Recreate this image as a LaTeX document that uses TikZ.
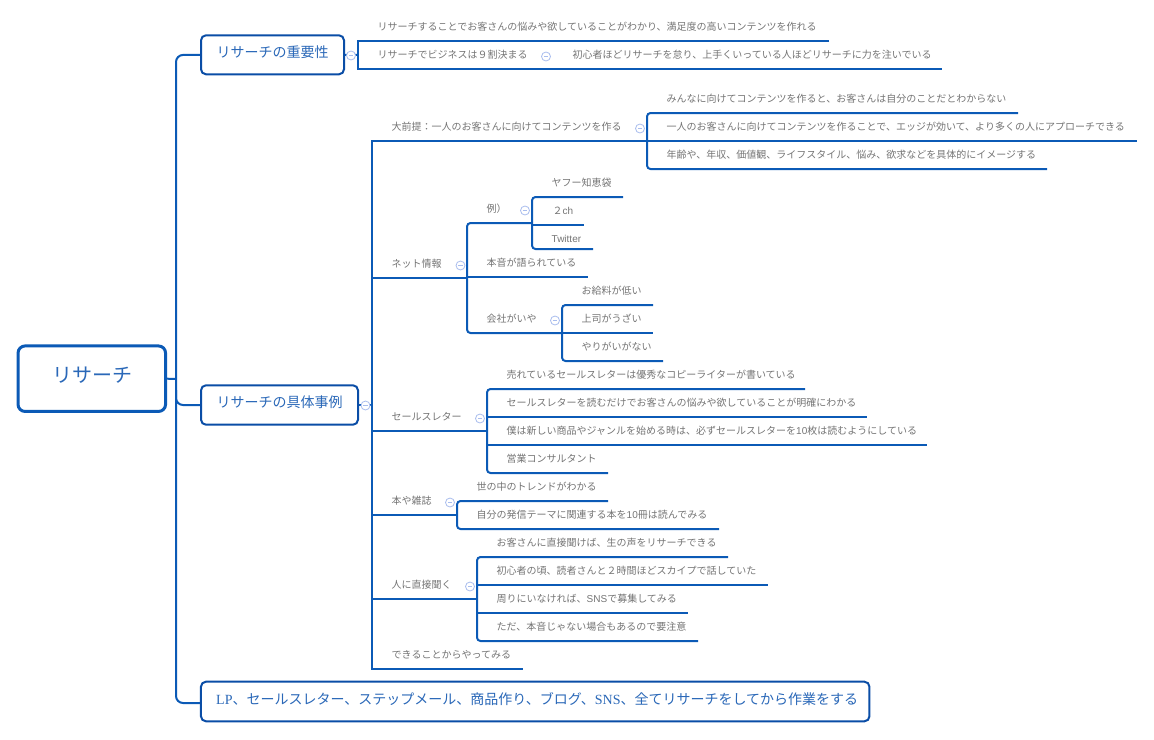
\documentclass[tikz,border=0pt]{standalone}
\usepackage{fontspec}
\setmainfont{Noto Sans CJK JP}
\newfontfamily\latsans{Liberation Sans}
\newfontfamily\latserif{Liberation Serif}
\definecolor{linkc}{HTML}{0B5AB6}
\definecolor{boxc}{HTML}{0A4DA6}
\definecolor{headc}{HTML}{2A68B8}
\definecolor{greyc}{HTML}{747474}
\definecolor{collc}{HTML}{A9BDEE}
\tikzset{
  branch/.style={draw=linkc,line width=2pt},
  rbranch/.style={branch,rounded corners=3.5pt},
  leaftext/.style={inner sep=0pt,anchor=base west,xshift=-.5pt,yshift=-4.5pt,text=greyc,font=\fontsize{10}{12}\selectfont},
  topicbox/.style={draw=boxc,line width=2pt,rounded corners=5pt,fill=white,text=headc,inner sep=0pt,font=\fontsize{14}{16}\selectfont},
  rootbox/.style={draw=linkc,line width=3pt,rounded corners=7pt,fill=white,text=headc,inner sep=0pt,font=\fontsize{20}{24}\selectfont},
  collapse/.style={circle,draw=collc,line width=.8pt,fill=white,minimum size=9pt,inner sep=0pt}
}
\newcommand{\lf}[7]{%
  \node[leaftext] (#1) at (#2,#3) {#4};
  \coordinate (#1-a) at (#5,#6);
  \coordinate (#1-b) at (#7,#6);
}
\newcommand{\cl}[3]{%
  \node[collapse] (#1) at (#2,#3) {};
  \draw[collc,line width=.8pt] ([xshift=-2.2pt]#1.center) -- ([xshift=2.2pt]#1.center);
}
\begin{document}
\begin{tikzpicture}[x=1pt,y=-1pt]
\useasboundingbox (0,0) rectangle (1154,739);
% topic nodes
\node[rootbox,minimum width=147.5pt,minimum height=65.5pt] (root) at (91.8,378.7) {};
\node[text=headc,inner sep=0pt,font=\fontsize{20}{24}\selectfont] (rootlabel) at (92,375) {リサーチ};
\node[topicbox,minimum width=143pt,minimum height=39pt] (t1) at (272.5,54.8) {};
\node[text=headc,inner sep=0pt,font=\fontsize{14}{16}\selectfont] (t1label) at (272.5,52.5) {リサーチの重要性};
\node[topicbox,minimum width=157pt,minimum height=39.4pt] (t2) at (279.5,405) {};
\node[text=headc,inner sep=0pt,font=\fontsize{14}{16}\selectfont] (t2label) at (279.5,402.5) {リサーチの具体事例};
\node[topicbox,minimum width=668.5pt,minimum height=39.6pt] (t3) at (535.2,701.5) {};
\node[text=headc,inner sep=0pt,anchor=west,font=\fontsize{14}{16}\selectfont] (t3label) at (216,699.5) {{\latserif LP}、セールスレター、ステップメール、商品作り、ブログ、{\latserif SNS}、全てリサーチをしてから作業をする};
% trunk
\coordinate (trunk) at (176,379);
\draw[branch] (root.east) -- (trunk);
\draw[rbranch,rounded corners=7pt] (t1.west) -- (176,55) -- (176,703) -- (t3.west |- 0,703);
\draw[rbranch,rounded corners=7pt] (176,390) -- (176,405) -- (t2.west);
% topic 1
\lf{a1}{378}{26}{リサーチすることでお客さんの悩みや欲していることがわかり、満足度の高いコンテンツを作れる}{358}{41}{829}
\lf{a2}{378}{54}{リサーチでビジネスは９割決まる}{358}{69}{942}
\lf{a3}{573}{54}{初心者ほどリサーチを怠り、上手くいっている人ほどリサーチに力を注いでいる}{543}{69}{942}
\draw[branch] (t1.east) -- (358,55);
\draw[branch] (a1-b) -- (a1-a) -- (a2-a) -- (a2-b);
\cl{c1}{351}{55.5}
\cl{c2}{546}{56.5}
% topic 2
\lf{b1}{392}{126}{大前提：一人のお客さんに向けてコンテンツを作る}{372}{141}{647}
\lf{b2}{392}{263}{ネット情報}{372}{277.5}{467}
\lf{b3}{392}{416}{セールスレター}{372}{431}{487}
\lf{b4}{392}{500}{本や雑誌}{372}{515}{457}
\lf{b5}{392}{584}{人に直接聞く}{372}{599}{477}
\lf{b6}{392}{654}{できることからやってみる}{372}{669}{523}
\draw[branch] (t2.east) -- (372,405);
\draw[branch] (b1-b) -- (b1-a) -- (b6-a) -- (b6-b);
\draw[branch] (b2-a) -- (b2-b);
\draw[branch] (b3-a) -- (b3-b);
\draw[branch] (b4-a) -- (b4-b);
\draw[branch] (b5-a) -- (b5-b);
\cl{c3}{365.5}{405.5}
% premise
\lf{d1}{667}{98}{みんなに向けてコンテンツを作ると、お客さんは自分のことだとわからない}{647}{113}{1018}
\lf{d2}{667}{126}{一人のお客さんに向けてコンテンツを作ることで、エッジが効いて、より多くの人にアプローチできる}{647}{141}{1137}
\lf{d3}{667}{154}{年齢や、年収、価値観、ライフスタイル、悩み、欲求などを具体的にイメージする}{647}{169}{1047}
\draw[rbranch] (d1-b) -- (d1-a) -- (d3-a) -- (d3-b);
\draw[branch] (d2-a) -- (d2-b);
\cl{c4}{640}{128.5}
% net
\lf{e1}{487}{208}{例）}{467}{223}{532}
\lf{e2}{487}{262}{本音が語られている}{467}{277}{588}
\lf{e3}{487}{318}{会社がいや}{467}{333}{562}
\draw[rbranch] (e1-b) -- (e1-a) -- (e3-a) -- (e3-b);
\draw[branch] (e2-a) -- (e2-b);
\cl{c5}{460.5}{265.5}
\lf{f1}{552}{182}{ヤフー知恵袋}{532}{197}{623}
\lf{f2}{553}{210}{２{\latsans ch}}{532}{225}{584}
\lf{f3}{552}{238}{{\latsans Twitter}}{532}{249}{593}
\draw[rbranch] (f1-b) -- (f1-a) -- (f3-a) -- (f3-b);
\draw[branch] (f2-a) -- (f2-b);
\cl{c6}{525}{210.5}
\lf{g1}{582}{290}{お給料が低い}{562}{305}{653}
\lf{g2}{582}{318}{上司がうざい}{562}{333}{653}
\lf{g3}{582}{346}{やりがいがない}{562}{361}{663}
\draw[rbranch] (g1-b) -- (g1-a) -- (g3-a) -- (g3-b);
\draw[branch] (g2-a) -- (g2-b);
\cl{c7}{555}{320.5}
% sales letter
\lf{h1}{507}{374}{売れているセールスレターは優秀なコピーライターが書いている}{487}{389}{805}
\lf{h2}{507}{402}{セールスレターを読むだけでお客さんの悩みや欲していることが明確にわかる}{487}{417}{867}
\lf{h3}{507}{430}{僕は新しい商品やジャンルを始める時は、必ずセールスレターを{\latsans 10}枚は読むようにしている}{487}{445}{927}
\lf{h4}{507}{458}{営業コンサルタント}{487}{473}{608}
\draw[rbranch] (h1-b) -- (h1-a) -- (h4-a) -- (h4-b);
\draw[branch] (h2-a) -- (h2-b);
\draw[branch] (h3-a) -- (h3-b);
\cl{c8}{480}{418.5}
% books
\lf{i1}{477}{486}{世の中のトレンドがわかる}{457}{501}{608}
\lf{i2}{477}{514}{自分の発信テーマに関連する本を{\latsans 10}冊は読んでみる}{457}{529}{719}
\draw[rbranch] (i1-b) -- (i1-a) -- (i2-a) -- (i2-b);
\cl{c9}{450}{502.5}
% direct
\lf{j1}{497}{542}{お客さんに直接聞けば、生の声をリサーチできる}{477}{557}{728}
\lf{j2}{497}{570}{初心者の頃、読者さんと２時間ほどスカイプで話していた}{477}{585}{768}
\lf{j3}{497}{598}{周りにいなければ、{\latsans SNS}で募集してみる}{477}{613}{688}
\lf{j4}{497}{626}{ただ、本音じゃない場合もあるので要注意}{477}{641}{698}
\draw[rbranch] (j1-b) -- (j1-a) -- (j4-a) -- (j4-b);
\draw[branch] (j2-a) -- (j2-b);
\draw[branch] (j3-a) -- (j3-b);
\cl{c10}{470}{586.5}
\end{tikzpicture}
\end{document}
